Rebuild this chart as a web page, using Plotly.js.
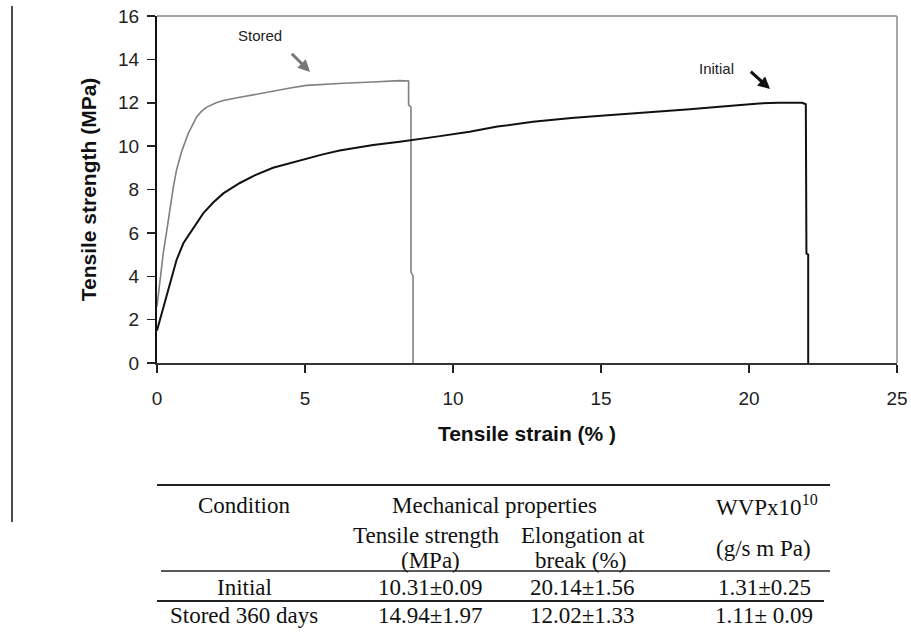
<!DOCTYPE html>
<html>
<head>
<meta charset="utf-8">
<script src="https://cdn.plot.ly/plotly-3.0.1.min.js"></script>
<style>html,body{margin:0;padding:0;background:#fff;}#chart{width:911px;height:639px;}</style>
</head>
<body>
<div id="chart"></div>
<script>
// ---- Data ----
const storedStrain = [0, 0.1, 0.21, 0.33, 0.44, 0.55, 0.66, 0.83, 1.06, 1.2, 1.34, 1.5, 1.68, 2.0, 2.24, 2.8, 3.36, 4.0, 4.5, 5.05, 5.6, 6.3, 7.29, 7.8, 8.2, 8.5, 8.5, 8.58, 8.58, 8.65, 8.65];
const storedStress = [2.6, 3.8, 5.05, 6.1, 7.2, 8.1, 8.9, 9.74, 10.6, 11.0, 11.35, 11.6, 11.8, 12.0, 12.1, 12.25, 12.4, 12.55, 12.68, 12.8, 12.85, 12.9, 12.96, 13.0, 13.02, 13.0, 11.9, 11.8, 4.2, 4.0, 0];

const initialStrain = [0, 0.16, 0.33, 0.5, 0.66, 0.89, 1.11, 1.3, 1.56, 1.9, 2.24, 2.8, 3.3, 3.92, 4.5, 5.05, 5.6, 6.17, 7.3, 8.2, 8.65, 9.5, 10.56, 11.5, 12.7, 14.0, 15.0, 16.07, 17.0, 18.0, 19.0, 20.34, 21.0, 21.8, 21.92, 21.94, 22.0, 22.0];
const initialStress = [1.5, 2.29, 3.06, 3.98, 4.75, 5.52, 5.98, 6.4, 6.9, 7.4, 7.82, 8.3, 8.65, 9.0, 9.22, 9.43, 9.62, 9.8, 10.05, 10.2, 10.28, 10.45, 10.66, 10.9, 11.12, 11.3, 11.4, 11.5, 11.6, 11.7, 11.82, 11.97, 12.0, 12.0, 11.93, 5.05, 5.0, 0];

const xTicks = [0, 5, 10, 15, 20, 25];
const yTicks = [0, 2, 4, 6, 8, 10, 12, 14, 16];

// Table content
const tableHeader1 = ["Condition", "Mechanical properties", "WVPx10<sup>10</sup>"];
const tableHeader2a = ["Tensile strength", "Elongation at", "(g/s m Pa)"];
const tableHeader2b = ["(MPa)", "break (%)"];
const rowLabels = ["Initial", "Stored 360 days"];
const tensileStrength = ["10.31±0.09", "14.94±1.97"];
const elongation = ["20.14±1.56", "12.02±1.33"];
const wvp = ["1.31±0.25", "1.11± 0.09"];

// ---- Layout helpers (pixel -> paper) ----
const PL = 157, PR = 897, PT = 16, PB = 363;
const W = 911, H = 639;
const px = v => (v - PL) / (PR - PL);
const py = v => (PB - v) / (PB - PT);

const serif = {family: "Liberation Serif, Times New Roman, serif", size: 23, color: "#111"};
const sans = {family: "Arial, Liberation Sans, sans-serif", size: 15, color: "#222"};

function txt(t, x, y) {
  return {text: t, xref: "paper", yref: "paper", x: px(x), y: py(y), xanchor: "center", yanchor: "middle", showarrow: false, font: serif};
}
function hline(x0, x1, y, w) {
  return {type: "line", xref: "paper", yref: "paper", x0: px(x0), x1: px(x1), y0: py(y), y1: py(y), line: {color: "#222", width: w || 1.5}};
}

const annotations = [
  // curve labels with their arrows (arrow tail anchored at text box corner)
  {text: "Stored", xref: "x", yref: "y", x: 5.17, y: 13.42, ax: -26, ay: -26,
   xanchor: "right", yanchor: "bottom", showarrow: true, arrowhead: 2, arrowsize: 0.8, arrowwidth: 3,
   arrowcolor: "#777", startstandoff: 11, font: sans},
  {text: "Initial", xref: "x", yref: "y", x: 20.71, y: 12.63, ax: -34, ay: -31,
   xanchor: "right", yanchor: "top", showarrow: true, arrowhead: 2, arrowsize: 0.8, arrowwidth: 3,
   arrowcolor: "#111", startstandoff: 20, font: sans},
  // table
  txt(tableHeader1[0], 244, 506),
  txt(tableHeader1[1], 494, 506),
  txt(tableHeader1[2], 767, 505),
  txt(tableHeader2a[0], 426, 535),
  txt(tableHeader2a[1], 583, 535),
  txt(tableHeader2a[2], 763, 548),
  txt(tableHeader2b[0], 430, 560),
  txt(tableHeader2b[1], 580, 560),
  txt(rowLabels[0], 244, 587),
  txt(tensileStrength[0], 430, 587),
  txt(elongation[0], 582, 587),
  txt(wvp[0], 764, 587),
  txt(rowLabels[1], 244, 615),
  txt(tensileStrength[1], 430, 615),
  txt(elongation[1], 582, 615),
  txt(wvp[1], 764, 615)
];

const shapes = [
  // frame top & right (grey)
  {type: "line", xref: "paper", yref: "paper", x0: 0, x1: 1, y0: 1, y1: 1, line: {color: "#8a8a8a", width: 1.5}},
  {type: "line", xref: "paper", yref: "paper", x0: 1, x1: 1, y0: 0, y1: 1, line: {color: "#8a8a8a", width: 1.5}},
  // left margin rule
  {type: "line", xref: "paper", yref: "paper", x0: px(12), x1: px(12), y0: py(6), y1: py(522), line: {color: "#111", width: 1.5}},
  // table rules
  hline(157, 830, 485, 2),
  hline(161, 830, 571, 1.5),
  hline(157, 824, 601, 2)
];

const traces = [
  {x: storedStrain, y: storedStress, type: "scatter", mode: "lines", name: "Stored", line: {color: "#808080", width: 1.6}},
  {x: initialStrain, y: initialStress, type: "scatter", mode: "lines", name: "Initial", line: {color: "#111", width: 2}}
];

const layout = {
  width: W, height: H,
  margin: {l: PL, r: W - PR, t: PT, b: H - PB, pad: 0},
  paper_bgcolor: "#fff", plot_bgcolor: "#fff",
  showlegend: false,
  xaxis: {
    range: [0, 25], tickvals: xTicks, ticktext: xTicks.map(String),
    showgrid: false, zeroline: false, showline: true, linecolor: "#333", linewidth: 1.5,
    ticks: "outside", ticklen: 8, tickwidth: 1.5, tickcolor: "#222",
    tickfont: {family: "Arial, Liberation Sans, sans-serif", size: 19, color: "#222"},
    ticklabelstandoff: 10,
    title: {text: "Tensile strain (% )", font: {family: "Arial, Liberation Sans, sans-serif", size: 21, color: "#111", weight: "bold"}, standoff: 18},
    automargin: false
  },
  yaxis: {
    range: [0, 16], tickvals: yTicks, ticktext: yTicks.map(String),
    showgrid: false, zeroline: false, showline: true, linecolor: "#111", linewidth: 2,
    ticks: "outside", ticklen: 8, tickwidth: 1.5, tickcolor: "#222",
    tickfont: {family: "Arial, Liberation Sans, sans-serif", size: 19, color: "#222"},
    ticklabelstandoff: 4,
    title: {text: "Tensile strength (MPa)", font: {family: "Arial, Liberation Sans, sans-serif", size: 21, color: "#111", weight: "bold"}, standoff: 16},
    automargin: false
  },
  annotations: annotations,
  shapes: shapes
};

Plotly.newPlot("chart", traces, layout, {displayModeBar: false, staticPlot: true});
</script>
</body>
</html>
